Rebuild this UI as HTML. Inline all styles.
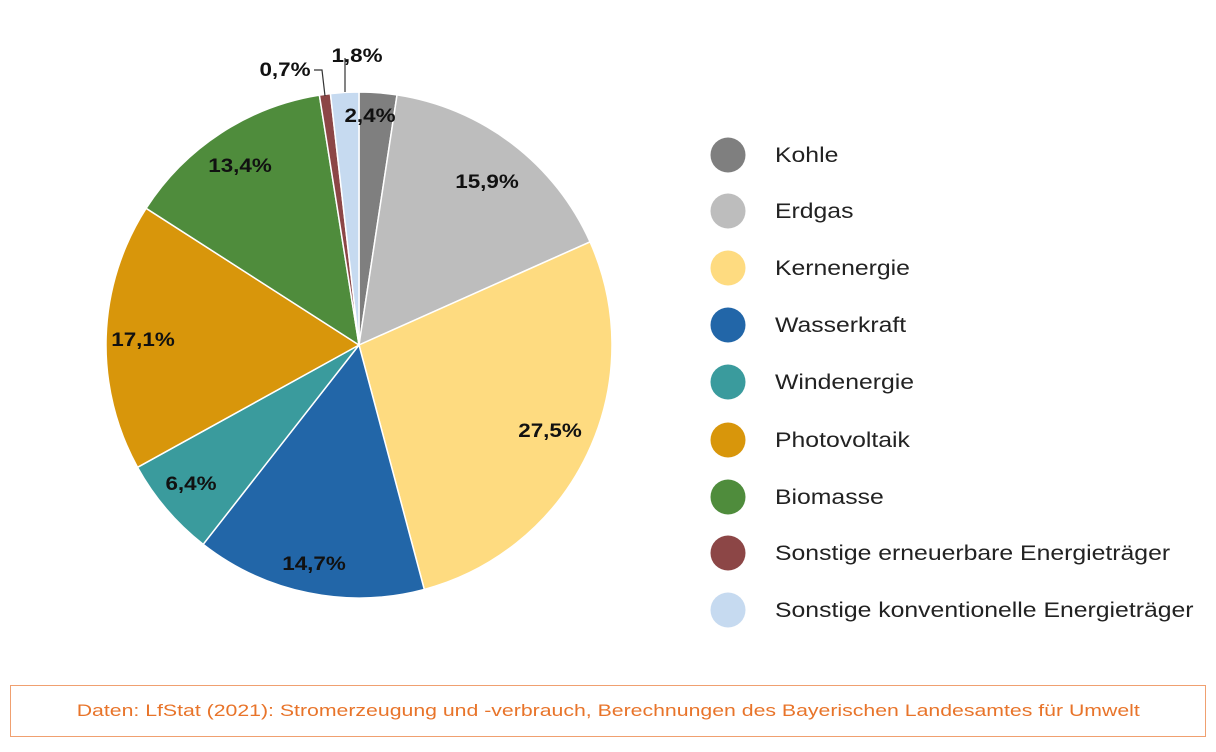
<!DOCTYPE html>
<html><head><meta charset="utf-8"><style>
body{margin:0;background:#fff;width:1216px;height:752px;overflow:hidden;font-family:"Liberation Sans",Arial,sans-serif}
svg{position:absolute;left:0;top:0}
.lab{font-weight:bold;font-size:19px;fill:#111}
.leg{font-size:21px;fill:#222}
.foot{position:absolute;left:10px;top:685px;width:1194px;height:50px;border:1.5px solid #f0a070;color:#e8742a;font-size:17px;text-align:center;line-height:50px}
.foot span{display:inline-block;transform:scaleX(1.25)}
</style></head><body>
<svg id="s" width="1216" height="752"></svg>
<div class="foot"><span>Daten: LfStat (2021): Stromerzeugung und -verbrauch, Berechnungen des Bayerischen Landesamtes für Umwelt</span></div>
<script>
var d=[[2.4,"#7f7f7f","Kohle"],[15.9,"#bdbdbd","Erdgas"],[27.5,"#fedb80","Kernenergie"],[14.7,"#2266a8","Wasserkraft"],[6.4,"#3a9b9d","Windenergie"],[17.1,"#d8960b","Photovoltaik"],[13.4,"#4f8c3c","Biomasse"],[0.7,"#8c4646","Sonstige erneuerbare Energieträger"],[1.8,"#c6daf0","Sonstige konventionelle Energieträger"]];
var cx=359,cy=345,r=253,tot=99.9,a=0,h="";
d.forEach(function(e){var a0=a/tot*2*Math.PI;a+=e[0];var a1=a/tot*2*Math.PI;
var x0=cx+r*Math.sin(a0),y0=cy-r*Math.cos(a0),x1=cx+r*Math.sin(a1),y1=cy-r*Math.cos(a1);
h+='<path d="M'+cx+','+cy+'L'+x0+','+y0+'A'+r+','+r+' 0 '+((a1-a0)>Math.PI?1:0)+' 1 '+x1+','+y1+'Z" fill="'+e[1]+'" stroke="#fff" stroke-width="1.5"/>';});
var L=[["2,4%",370,122],["15,9%",487,188],["27,5%",550,437],["14,7%",314,570],["6,4%",191,490],["17,1%",143,346],["13,4%",240,172],["0,7%",285,76],["1,8%",357,62]];
L.forEach(function(l){h+='<text class="lab" transform="translate('+l[1]+','+l[2]+') scale(1.18,1)" text-anchor="middle">'+l[0]+'</text>';});
h+='<polyline points="314,70 322,70 325,96" fill="none" stroke="#333" stroke-width="1.2"/>';
h+='<polyline points="345,58 345,92" fill="none" stroke="#333" stroke-width="1.2"/>';
var ys=[155,211,268,325,382,440,497,553,610];
d.forEach(function(e,i){h+='<circle cx="728" cy="'+ys[i]+'" r="17.5" fill="'+e[1]+'"/><text class="leg" transform="translate(775,'+(ys[i]+7)+') scale(1.18,1)">'+e[2]+'</text>';});
document.getElementById("s").innerHTML=h;
</script>
</body></html>
